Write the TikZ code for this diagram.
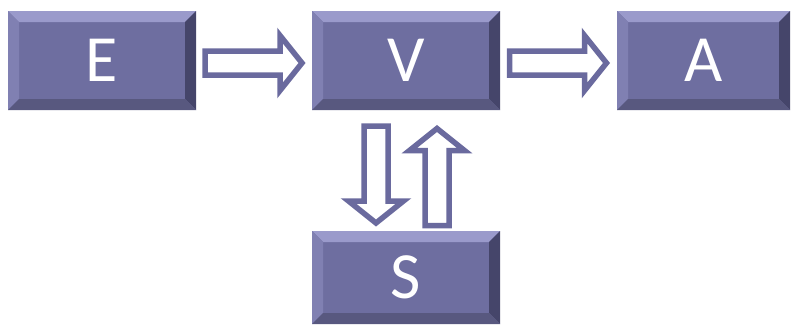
\documentclass[tikz,border=0pt]{standalone}
\usepackage{fontspec}
\setmainfont{Carlito}
\usetikzlibrary{calc}
\definecolor{boxface}{HTML}{6E6EA0}
\definecolor{boxlight}{HTML}{9A9ACB}
\definecolor{boxside}{HTML}{8080B2}
\definecolor{boxdark}{HTML}{45456A}
\definecolor{boxlow}{HTML}{58587F}
\definecolor{arrowline}{HTML}{6A6A9E}
\tikzset{
  bevelbox/.style={fill=boxface, text=white, inner sep=0pt,
    minimum width=188pt, minimum height=99pt,
    font=\fontsize{66}{66}\selectfont,
    path picture={
      \coordinate (nw) at (path picture bounding box.north west);
      \coordinate (ne) at (path picture bounding box.north east);
      \coordinate (sw) at (path picture bounding box.south west);
      \coordinate (se) at (path picture bounding box.south east);
      \fill[boxlight] (nw) -- (ne) -- ($(ne)+(-11,-11)$) -- ($(nw)+(11,-11)$) -- cycle;
      \fill[boxside] (nw) -- (sw) -- ($(sw)+(11,11)$) -- ($(nw)+(11,-11)$) -- cycle;
      \fill[boxdark] (ne) -- (se) -- ($(se)+(-11,11)$) -- ($(ne)+(-11,-11)$) -- cycle;
      \fill[boxlow] (sw) -- (se) -- ($(se)+(-11,11)$) -- ($(sw)+(11,11)$) -- cycle;
    }},
  flowline/.style={draw=arrowline, line width=5.5pt, fill=white, miter limit=4},
  flowarrow/.pic={
    \draw[flowline] (-49,-12) -- (26,-12) -- (26,-27.5) -- (48,0)
      -- (26,27.5) -- (26,12) -- (-49,12) -- cycle;
  }
}
\begin{document}
\begin{tikzpicture}[x=1pt, y=1pt]
  \useasboundingbox (0,0) rectangle (794,325);
  \node[bevelbox] (E) at (102,264.5) {E};
  \node[bevelbox] (V) at (406,264.5) {V};
  \node[bevelbox, minimum width=173pt] (A) at (703.5,264.5) {A};
  \node[bevelbox, minimum height=93pt] (S) at (406,47.5) {S};
  \pic (ev) at ($(E.east)!0.5!(V.west)+(0,-2.5)$) {flowarrow};
  \pic (va) at ($(V.east)!0.5!(A.west)+(0,-2.5)$) {flowarrow};
  \pic[rotate=270] (vs) at ($(V.south)!0.5!(S.north)+(-30,-4.5)$) {flowarrow};
  \pic[rotate=90] (sv) at ($(V.south)!0.5!(S.north)+(31,-6)$) {flowarrow};
\end{tikzpicture}
\end{document}
